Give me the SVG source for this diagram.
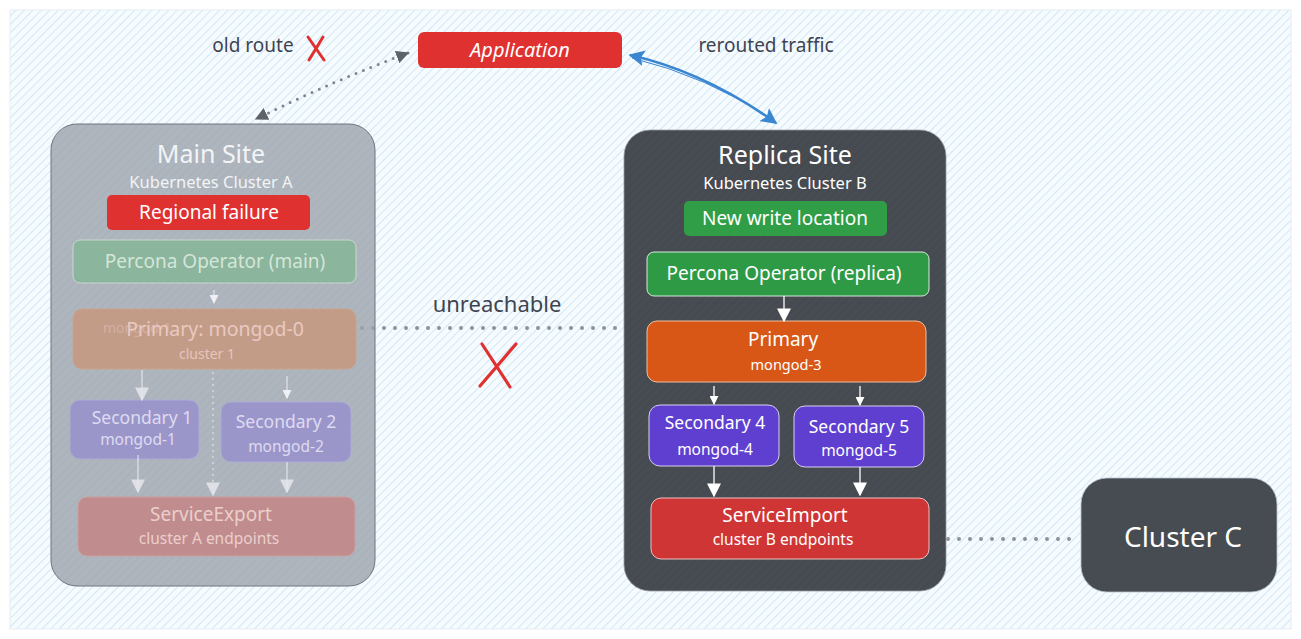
<svg xmlns="http://www.w3.org/2000/svg" width="1301" height="639" viewBox="0 0 1301 639">
<defs>
  <pattern id="hatch" patternUnits="userSpaceOnUse" width="6" height="6" patternTransform="rotate(45)">
    <rect width="6" height="6" fill="#f6fbfe"/>
    <line x1="0" y1="0" x2="0" y2="6" stroke="#c9e3f6" stroke-width="1.6"/>
  </pattern>
  <pattern id="hatchDark" patternUnits="userSpaceOnUse" width="6" height="6" patternTransform="rotate(45)">
    <line x1="0" y1="0" x2="0" y2="6" stroke="#000" stroke-opacity="0.06" stroke-width="1.6"/>
  </pattern>
  <marker id="mGray" viewBox="0 0 10 10" refX="9" refY="5" markerWidth="13" markerHeight="13" markerUnits="userSpaceOnUse" orient="auto-start-reverse">
    <path d="M0,0 L10,5 L0,10 Z" fill="#5d626b"/>
  </marker>
  <marker id="mBlue" viewBox="0 0 10 10" refX="9" refY="5" markerWidth="16" markerHeight="16" markerUnits="userSpaceOnUse" orient="auto-start-reverse">
    <path d="M0,0 L10,5 L0,10 L2,5 Z" fill="#3a86d0"/>
  </marker>
  <marker id="mWhite" viewBox="0 0 10 10" refX="9" refY="5" markerWidth="14" markerHeight="14" markerUnits="userSpaceOnUse" orient="auto">
    <path d="M0,0 L10,5 L0,10 Z" fill="#ffffff"/>
  </marker>
  <marker id="mWhiteS" viewBox="0 0 10 10" refX="9" refY="5" markerWidth="9" markerHeight="9" markerUnits="userSpaceOnUse" orient="auto">
    <path d="M0,0 L10,5 L0,10 Z" fill="#ffffff"/>
  </marker>
  <marker id="mFade" viewBox="0 0 10 10" refX="9" refY="5" markerWidth="14" markerHeight="14" markerUnits="userSpaceOnUse" orient="auto">
    <path d="M0,0 L10,5 L0,10 Z" fill="#e6e8ec" fill-opacity="0.85"/>
  </marker>
  <marker id="mFadeS" viewBox="0 0 10 10" refX="9" refY="5" markerWidth="9" markerHeight="9" markerUnits="userSpaceOnUse" orient="auto">
    <path d="M0,0 L10,5 L0,10 Z" fill="#f0f0f4"/>
  </marker>
</defs>
<style>
  text { font-family: "Noto Sans", "Open Sans", "DejaVu Sans", sans-serif; text-anchor: middle; }
  .lbl { fill: #3e4450; font-size: 19px; }
  .wt { fill: #ffffff; }
  .title { font-size: 25px; }
  .sub { font-size: 16.5px; }
  .node { font-size: 17.5px; }
  .mid { font-size: 19px; }
  .ep { font-size: 15.5px; }
  .mg { font-size: 15.5px; }
  .fline { stroke: #e6e8ec; stroke-opacity: 0.85; stroke-width: 1.3; fill: none; }
  .wline { stroke: #ffffff; stroke-width: 1.3; fill: none; }
  .dots { stroke: #8c929b; stroke-width: 4; stroke-linecap: round; stroke-dasharray: 0 11; fill: none; }
</style>

<!-- background frame -->
<rect x="10" y="10" width="1281" height="619" fill="url(#hatch)" stroke="#e6edf2" stroke-width="1"/>

<!-- connectors -->
<g id="connectors">
  <path d="M408,53 Q335,80 256,119" stroke="#80868f" stroke-width="3" stroke-dasharray="0 8" stroke-linecap="round" fill="none" marker-start="url(#mGray)" marker-end="url(#mGray)"/>
  <path d="M630,55 Q705,72 776,123" stroke="#3a86d0" stroke-width="2.6" fill="none" marker-start="url(#mBlue)" marker-end="url(#mBlue)"/>
  <path d="M632,58 Q706,76 774,120" stroke="#3a86d0" stroke-width="1" fill="none"/>
  <line x1="362" y1="328" x2="628" y2="328" class="dots"/>
  <line x1="948" y1="539" x2="1076" y2="539" class="dots"/>
</g>

<!-- labels -->
<g id="label-old-route">
  <text x="253" y="52" class="lbl">old route</text>
  <path d="M308,37 L324,60 M323,37 L309,60" stroke="#e03131" stroke-width="3" stroke-linecap="round" fill="none"/>
</g>
<g id="label-rerouted">
  <text x="766" y="52" class="lbl">rerouted traffic</text>
</g>
<g id="label-unreachable">
  <text x="497" y="312" class="lbl" style="font-size:22px">unreachable</text>
  <path d="M482,344 L510,387 M516,344 L480,386" stroke="#e03131" stroke-width="3.2" stroke-linecap="round" fill="none"/>
</g>

<!-- Application -->
<g id="application">
  <rect x="418" y="32" width="204" height="36" rx="6" fill="#e03131"/>
  <text x="520" y="57" class="wt" style="font-size:20px;font-style:italic">Application</text>
</g>

<!-- Main Site -->
<g id="main-site">
  <rect x="51" y="124" width="324" height="462" rx="26" fill="#9aa2ab" fill-opacity="0.78" stroke="#6f757d" stroke-width="1"/>
  <text x="211" y="163" class="title" fill="#f2f4f6">Main Site</text>
  <text x="211" y="188" class="sub" fill="#f2f4f6">Kubernetes Cluster A</text>
</g>
<g id="regional-failure">
  <rect x="107" y="195" width="203" height="35" rx="5" fill="#e03131"/>
  <text x="209" y="219" class="wt mid">Regional failure</text>
</g>
<g id="operator-main">
  <rect x="73" y="240" width="283" height="43" rx="7" fill="#8bb59c" stroke="#c9d9cf" stroke-width="1"/>
  <text x="215" y="268" class="mid" fill="#d4e6d9">Percona Operator (main)</text>
</g>
<g id="primary-main">
  <rect x="73" y="309" width="283" height="60" rx="9" fill="#c39c88" stroke="#c9a48c" stroke-width="1"/>
  <text x="103" y="333" style="font-size:14px;text-anchor:start" fill="#d2b0a3">mongod-1</text>
  <text x="215" y="336" style="font-size:19.5px" fill="#e9c9c1">Primary: mongod-0</text>
  <text x="207" y="359" style="font-size:14px" fill="#e7c5bc">cluster 1</text>
</g>
<g id="secondary-1">
  <rect x="70" y="400" width="129" height="59" rx="10" fill="#9b96ca" stroke="#aeaad4" stroke-width="1"/>
  <text x="142" y="424" class="node" fill="#dedbf1">Secondary 1</text>
  <text x="138" y="445" class="mg" fill="#dedbf1">mongod-1</text>
</g>
<g id="secondary-2">
  <rect x="221" y="402" width="130" height="60" rx="10" fill="#9b96ca" stroke="#aeaad4" stroke-width="1"/>
  <text x="286" y="428" class="node" fill="#dedbf1">Secondary 2</text>
  <text x="286" y="452" class="mg" fill="#dedbf1">mongod-2</text>
</g>
<g id="service-export">
  <rect x="78" y="497" width="277" height="59" rx="9" fill="#c08c8d" stroke="#cc9f9f" stroke-width="1"/>
  <text x="211" y="521" class="mid" fill="#ebcfcd">ServiceExport</text>
  <text x="209" y="544" class="ep" fill="#ebcfcd">cluster A endpoints</text>
</g>
<g id="main-arrows">
  <line x1="214" y1="290" x2="214" y2="303" class="fline" marker-end="url(#mFadeS)"/>
  <line x1="142" y1="370" x2="142" y2="400" class="fline" marker-end="url(#mFade)"/>
  <line x1="213" y1="372" x2="213" y2="495" class="fline" stroke-dasharray="2 4" marker-end="url(#mFade)"/>
  <line x1="287" y1="376" x2="287" y2="398" class="fline" marker-end="url(#mFadeS)"/>
  <line x1="138" y1="455" x2="138" y2="492" class="fline" marker-end="url(#mFade)"/>
  <line x1="287" y1="462" x2="287" y2="492" class="fline" marker-end="url(#mFade)"/>
</g>

<!-- Replica Site -->
<g id="replica-site">
  <rect x="624" y="130" width="322" height="461" rx="26" fill="#474b52" stroke="#9aa0a8" stroke-width="0.8"/>
  <rect x="624" y="130" width="322" height="461" rx="26" fill="url(#hatchDark)"/>
  <text x="785" y="164" class="title wt">Replica Site</text>
  <text x="785" y="189" class="sub wt">Kubernetes Cluster B</text>
</g>
<g id="new-write-location">
  <rect x="684" y="201" width="203" height="35" rx="5" fill="#2f9e47"/>
  <text x="785" y="225" class="wt mid">New write location</text>
</g>
<g id="operator-replica">
  <rect x="647" y="252" width="282" height="44" rx="7" fill="#2f9a46" stroke="#d8eadc" stroke-width="1"/>
  <text x="784" y="280" class="wt mid">Percona Operator (replica)</text>
</g>
<g id="primary-replica">
  <rect x="647" y="321" width="279" height="61" rx="10" fill="#d95716" stroke="#f0c0a0" stroke-width="1"/>
  <text x="783" y="346" class="wt mid">Primary</text>
  <text x="786" y="370" class="wt" style="font-size:14.5px">mongod-3</text>
</g>
<g id="secondary-4">
  <rect x="649" y="405" width="130" height="61" rx="11" fill="#5f3fd0" stroke="#d6d0f2" stroke-width="1"/>
  <text x="715" y="429" class="wt node">Secondary 4</text>
  <text x="715" y="455" class="wt mg">mongod-4</text>
</g>
<g id="secondary-5">
  <rect x="794" y="406" width="130" height="61" rx="11" fill="#5f3fd0" stroke="#d6d0f2" stroke-width="1"/>
  <text x="859" y="433" class="wt node">Secondary 5</text>
  <text x="859" y="456" class="wt mg">mongod-5</text>
</g>
<g id="service-import">
  <rect x="651" y="498" width="278" height="61" rx="10" fill="#d03535" stroke="#eec0c0" stroke-width="1"/>
  <text x="785" y="522" class="wt mid">ServiceImport</text>
  <text x="783" y="545" class="wt ep">cluster B endpoints</text>
</g>
<g id="replica-arrows">
  <line x1="784" y1="296" x2="784" y2="321" class="wline" marker-end="url(#mWhite)"/>
  <line x1="714" y1="386" x2="714" y2="404" class="wline" marker-end="url(#mWhiteS)"/>
  <line x1="860" y1="386" x2="860" y2="405" class="wline" marker-end="url(#mWhiteS)"/>
  <line x1="714" y1="466" x2="714" y2="496" class="wline" marker-end="url(#mWhite)"/>
  <line x1="860" y1="467" x2="860" y2="495" class="wline" marker-end="url(#mWhite)"/>
</g>

<!-- Cluster C -->
<g id="cluster-c">
  <rect x="1081" y="478" width="196" height="114" rx="26" fill="#474b52" stroke="#b8c4d0" stroke-width="0.8"/>
  <text x="1183" y="547" class="wt" style="font-size:28px">Cluster C</text>
</g>
</svg>
